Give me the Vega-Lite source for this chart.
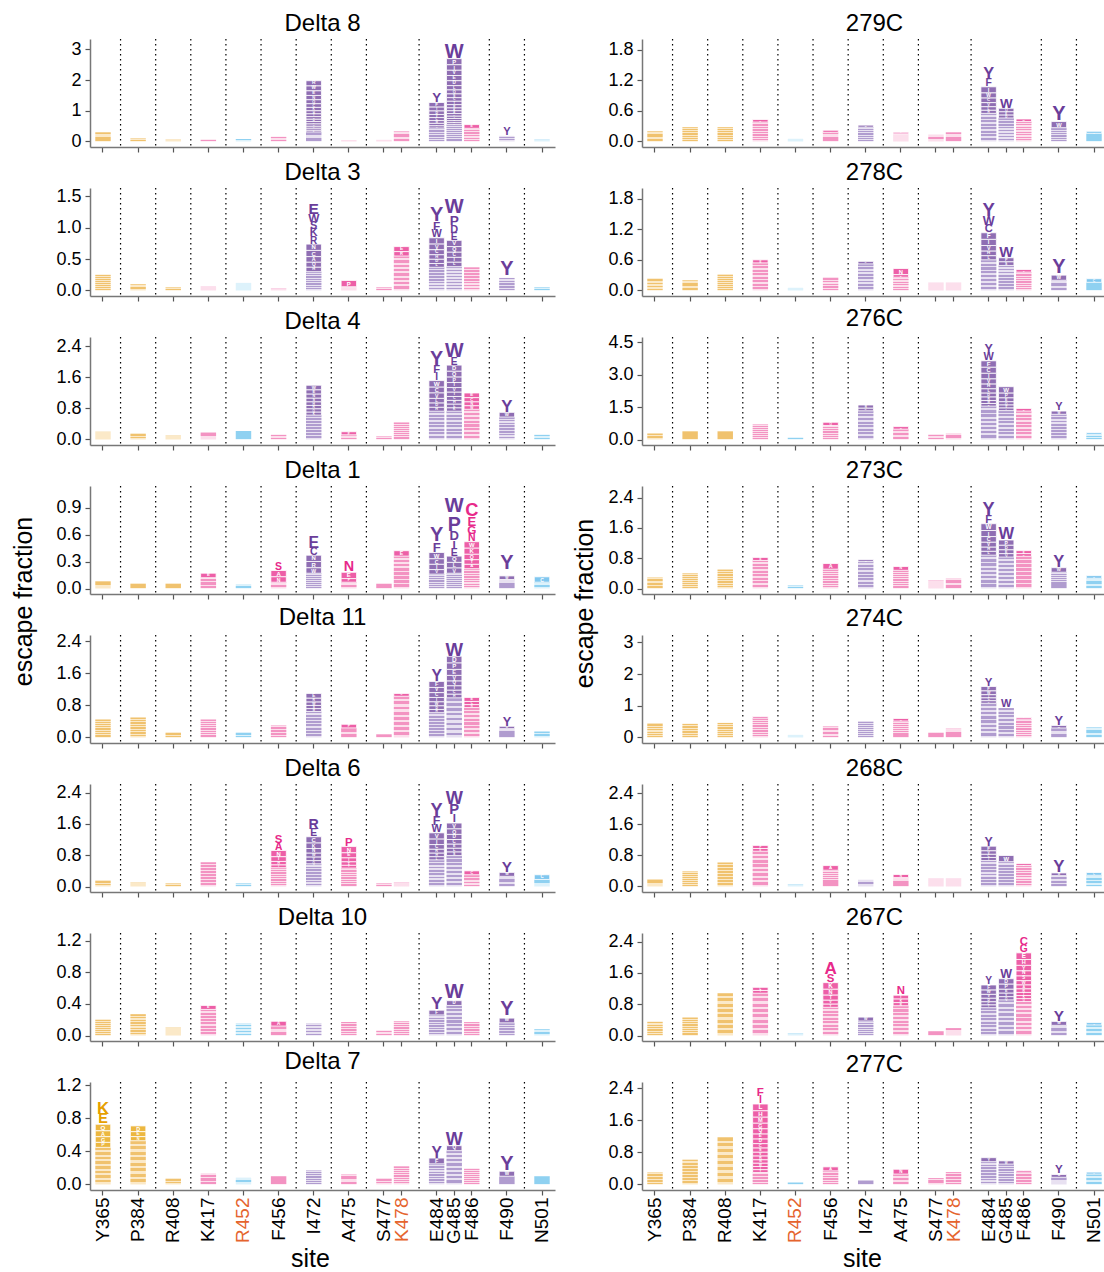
{
"padding": {"left": 10, "top": 12, "right": 0, "bottom": 0},
"params": [
{"name": "sitegrp", "value": {"Y365":"o","P384":"o","R408":"o","K417":"k","R452":"b","F456":"k","I472":"u","A475":"k","S477":"k","K478":"k","E484":"u","G485":"u","F486":"k","F490":"u","N501":"b"}},
{"name": "colmap", "value": {"o":"#E69F00","k":"#E7298A","u":"#6A3D9A","b":"#56B4E9"}},
{"name": "gradmap", "value": {
"o": {"gradient":"linear","x1":0,"y1":0,"x2":0,"y2":1,"stops":[{"offset":0,"color":"#F0C26E"},{"offset":0.07,"color":"#F0C26E"},{"offset":0.07,"color":"#FBE9C8"},{"offset":0.125,"color":"#FBE9C8"},{"offset":0.125,"color":"#F0C26E"},{"offset":0.195,"color":"#F0C26E"},{"offset":0.195,"color":"#FBE9C8"},{"offset":0.25,"color":"#FBE9C8"},{"offset":0.25,"color":"#F0C26E"},{"offset":0.32,"color":"#F0C26E"},{"offset":0.32,"color":"#FBE9C8"},{"offset":0.375,"color":"#FBE9C8"},{"offset":0.375,"color":"#F0C26E"},{"offset":0.445,"color":"#F0C26E"},{"offset":0.445,"color":"#FBE9C8"},{"offset":0.5,"color":"#FBE9C8"},{"offset":0.5,"color":"#F0C26E"},{"offset":0.57,"color":"#F0C26E"},{"offset":0.57,"color":"#FBE9C8"},{"offset":0.625,"color":"#FBE9C8"},{"offset":0.625,"color":"#F0C26E"},{"offset":0.695,"color":"#F0C26E"},{"offset":0.695,"color":"#FBE9C8"},{"offset":0.75,"color":"#FBE9C8"},{"offset":0.75,"color":"#F0C26E"},{"offset":0.82,"color":"#F0C26E"},{"offset":0.82,"color":"#FBE9C8"},{"offset":0.875,"color":"#FBE9C8"},{"offset":0.875,"color":"#F0C26E"},{"offset":0.945,"color":"#F0C26E"},{"offset":0.945,"color":"#FBE9C8"},{"offset":1,"color":"#FBE9C8"}]},
"k": {"gradient":"linear","x1":0,"y1":0,"x2":0,"y2":1,"stops":[{"offset":0,"color":"#F393C2"},{"offset":0.07,"color":"#F393C2"},{"offset":0.07,"color":"#FCDFEC"},{"offset":0.125,"color":"#FCDFEC"},{"offset":0.125,"color":"#F393C2"},{"offset":0.195,"color":"#F393C2"},{"offset":0.195,"color":"#FCDFEC"},{"offset":0.25,"color":"#FCDFEC"},{"offset":0.25,"color":"#F393C2"},{"offset":0.32,"color":"#F393C2"},{"offset":0.32,"color":"#FCDFEC"},{"offset":0.375,"color":"#FCDFEC"},{"offset":0.375,"color":"#F393C2"},{"offset":0.445,"color":"#F393C2"},{"offset":0.445,"color":"#FCDFEC"},{"offset":0.5,"color":"#FCDFEC"},{"offset":0.5,"color":"#F393C2"},{"offset":0.57,"color":"#F393C2"},{"offset":0.57,"color":"#FCDFEC"},{"offset":0.625,"color":"#FCDFEC"},{"offset":0.625,"color":"#F393C2"},{"offset":0.695,"color":"#F393C2"},{"offset":0.695,"color":"#FCDFEC"},{"offset":0.75,"color":"#FCDFEC"},{"offset":0.75,"color":"#F393C2"},{"offset":0.82,"color":"#F393C2"},{"offset":0.82,"color":"#FCDFEC"},{"offset":0.875,"color":"#FCDFEC"},{"offset":0.875,"color":"#F393C2"},{"offset":0.945,"color":"#F393C2"},{"offset":0.945,"color":"#FCDFEC"},{"offset":1,"color":"#FCDFEC"}]},
"u": {"gradient":"linear","x1":0,"y1":0,"x2":0,"y2":1,"stops":[{"offset":0,"color":"#B09CCF"},{"offset":0.07,"color":"#B09CCF"},{"offset":0.07,"color":"#E8E1F1"},{"offset":0.125,"color":"#E8E1F1"},{"offset":0.125,"color":"#B09CCF"},{"offset":0.195,"color":"#B09CCF"},{"offset":0.195,"color":"#E8E1F1"},{"offset":0.25,"color":"#E8E1F1"},{"offset":0.25,"color":"#B09CCF"},{"offset":0.32,"color":"#B09CCF"},{"offset":0.32,"color":"#E8E1F1"},{"offset":0.375,"color":"#E8E1F1"},{"offset":0.375,"color":"#B09CCF"},{"offset":0.445,"color":"#B09CCF"},{"offset":0.445,"color":"#E8E1F1"},{"offset":0.5,"color":"#E8E1F1"},{"offset":0.5,"color":"#B09CCF"},{"offset":0.57,"color":"#B09CCF"},{"offset":0.57,"color":"#E8E1F1"},{"offset":0.625,"color":"#E8E1F1"},{"offset":0.625,"color":"#B09CCF"},{"offset":0.695,"color":"#B09CCF"},{"offset":0.695,"color":"#E8E1F1"},{"offset":0.75,"color":"#E8E1F1"},{"offset":0.75,"color":"#B09CCF"},{"offset":0.82,"color":"#B09CCF"},{"offset":0.82,"color":"#E8E1F1"},{"offset":0.875,"color":"#E8E1F1"},{"offset":0.875,"color":"#B09CCF"},{"offset":0.945,"color":"#B09CCF"},{"offset":0.945,"color":"#E8E1F1"},{"offset":1,"color":"#E8E1F1"}]},
"b": {"gradient":"linear","x1":0,"y1":0,"x2":0,"y2":1,"stops":[{"offset":0,"color":"#8FD1F1"},{"offset":0.07,"color":"#8FD1F1"},{"offset":0.07,"color":"#DDF2FB"},{"offset":0.125,"color":"#DDF2FB"},{"offset":0.125,"color":"#8FD1F1"},{"offset":0.195,"color":"#8FD1F1"},{"offset":0.195,"color":"#DDF2FB"},{"offset":0.25,"color":"#DDF2FB"},{"offset":0.25,"color":"#8FD1F1"},{"offset":0.32,"color":"#8FD1F1"},{"offset":0.32,"color":"#DDF2FB"},{"offset":0.375,"color":"#DDF2FB"},{"offset":0.375,"color":"#8FD1F1"},{"offset":0.445,"color":"#8FD1F1"},{"offset":0.445,"color":"#DDF2FB"},{"offset":0.5,"color":"#DDF2FB"},{"offset":0.5,"color":"#8FD1F1"},{"offset":0.57,"color":"#8FD1F1"},{"offset":0.57,"color":"#DDF2FB"},{"offset":0.625,"color":"#DDF2FB"},{"offset":0.625,"color":"#8FD1F1"},{"offset":0.695,"color":"#8FD1F1"},{"offset":0.695,"color":"#DDF2FB"},{"offset":0.75,"color":"#DDF2FB"},{"offset":0.75,"color":"#8FD1F1"},{"offset":0.82,"color":"#8FD1F1"},{"offset":0.82,"color":"#DDF2FB"},{"offset":0.875,"color":"#DDF2FB"},{"offset":0.875,"color":"#8FD1F1"},{"offset":0.945,"color":"#8FD1F1"},{"offset":0.945,"color":"#DDF2FB"},{"offset":1,"color":"#DDF2FB"}]}
}}
],
"datasets": {
"seps": [{"s":"g1"},{"s":"g2"},{"s":"g3"},{"s":"g4"},{"s":"g5"},{"s":"g6"},{"s":"g7"},{"s":"g8"},{"s":"g9"},{"s":"g10"},{"s":"g11"}],
"logo": [
{"p":"D8","s":"Y365","a":"","v":0.3},{"p":"D8","s":"P384","a":"","v":0.1},{"p":"D8","s":"R408","a":"","v":0.06},{"p":"D8","s":"K417","a":"","v":0.07},{"p":"D8","s":"R452","a":"","v":0.08},{"p":"D8","s":"F456","a":"","v":0.15},
{"p":"D8","s":"I472","a":"","v":0.31},{"p":"D8","s":"I472","a":"R","v":0.17},{"p":"D8","s":"I472","a":"W","v":0.16},{"p":"D8","s":"I472","a":"E","v":0.15},{"p":"D8","s":"I472","a":"N","v":0.14},{"p":"D8","s":"I472","a":"Q","v":0.13},{"p":"D8","s":"I472","a":"C","v":0.12},{"p":"D8","s":"I472","a":"K","v":0.11},{"p":"D8","s":"I472","a":"H","v":0.1},{"p":"D8","s":"I472","a":"T","v":0.09},{"p":"D8","s":"I472","a":"L","v":0.08},{"p":"D8","s":"I472","a":"M","v":0.08},{"p":"D8","s":"I472","a":"S","v":0.08},{"p":"D8","s":"I472","a":"V","v":0.07},{"p":"D8","s":"I472","a":"G","v":0.07},{"p":"D8","s":"I472","a":"D","v":0.06},{"p":"D8","s":"I472","a":"A","v":0.06},
{"p":"D8","s":"A475","a":"","v":0.05},{"p":"D8","s":"S477","a":"","v":0.05},{"p":"D8","s":"K478","a":"","v":0.33},
{"p":"D8","s":"E484","a":"","v":0.44},{"p":"D8","s":"E484","a":"Y","v":0.3},{"p":"D8","s":"E484","a":"F","v":0.15},{"p":"D8","s":"E484","a":"D","v":0.12},{"p":"D8","s":"E484","a":"I","v":0.12},{"p":"D8","s":"E484","a":"C","v":0.1},{"p":"D8","s":"E484","a":"V","v":0.1},{"p":"D8","s":"E484","a":"W","v":0.09},{"p":"D8","s":"E484","a":"L","v":0.08},{"p":"D8","s":"E484","a":"H","v":0.07},
{"p":"D8","s":"G485","a":"","v":0.55},{"p":"D8","s":"G485","a":"W","v":0.45},{"p":"D8","s":"G485","a":"P","v":0.2},{"p":"D8","s":"G485","a":"I","v":0.18},{"p":"D8","s":"G485","a":"E","v":0.17},{"p":"D8","s":"G485","a":"V","v":0.17},{"p":"D8","s":"G485","a":"D","v":0.16},{"p":"D8","s":"G485","a":"L","v":0.14},{"p":"D8","s":"G485","a":"Q","v":0.13},{"p":"D8","s":"G485","a":"C","v":0.12},{"p":"D8","s":"G485","a":"S","v":0.12},{"p":"D8","s":"G485","a":"T","v":0.11},{"p":"D8","s":"G485","a":"K","v":0.1},{"p":"D8","s":"G485","a":"R","v":0.1},{"p":"D8","s":"G485","a":"A","v":0.09},{"p":"D8","s":"G485","a":"Y","v":0.08},{"p":"D8","s":"G485","a":"F","v":0.08},{"p":"D8","s":"G485","a":"M","v":0.07},{"p":"D8","s":"G485","a":"N","v":0.07},{"p":"D8","s":"G485","a":"H","v":0.06},
{"p":"D8","s":"F486","a":"","v":0.43},{"p":"D8","s":"F486","a":"E","v":0.12},{"p":"D8","s":"F490","a":"","v":0.18},{"p":"D8","s":"F490","a":"Y","v":0.25},{"p":"D8","s":"N501","a":"","v":0.06},

{"p":"D3","s":"Y365","a":"","v":0.25},{"p":"D3","s":"P384","a":"","v":0.1},{"p":"D3","s":"R408","a":"","v":0.05},{"p":"D3","s":"K417","a":"","v":0.06},{"p":"D3","s":"R452","a":"","v":0.12},{"p":"D3","s":"F456","a":"","v":0.03},
{"p":"D3","s":"I472","a":"","v":0.3},{"p":"D3","s":"I472","a":"E","v":0.17},{"p":"D3","s":"I472","a":"W","v":0.13},{"p":"D3","s":"I472","a":"K","v":0.12},{"p":"D3","s":"I472","a":"S","v":0.12},{"p":"D3","s":"I472","a":"R","v":0.11},{"p":"D3","s":"I472","a":"C","v":0.1},{"p":"D3","s":"I472","a":"N","v":0.1},{"p":"D3","s":"I472","a":"A","v":0.09},{"p":"D3","s":"I472","a":"Q","v":0.08},{"p":"D3","s":"I472","a":"H","v":0.07},
{"p":"D3","s":"A475","a":"","v":0.06},{"p":"D3","s":"A475","a":"P","v":0.1},{"p":"D3","s":"S477","a":"","v":0.05},
{"p":"D3","s":"K478","a":"","v":0.55},{"p":"D3","s":"K478","a":"E","v":0.08},{"p":"D3","s":"K478","a":"R","v":0.07},
{"p":"D3","s":"E484","a":"","v":0.37},{"p":"D3","s":"E484","a":"Y","v":0.22},{"p":"D3","s":"E484","a":"F","v":0.13},{"p":"D3","s":"E484","a":"W","v":0.12},{"p":"D3","s":"E484","a":"I","v":0.1},{"p":"D3","s":"E484","a":"V","v":0.09},{"p":"D3","s":"E484","a":"C","v":0.08},{"p":"D3","s":"E484","a":"D","v":0.07},{"p":"D3","s":"E484","a":"H","v":0.07},{"p":"D3","s":"E484","a":"L","v":0.06},
{"p":"D3","s":"G485","a":"","v":0.38},{"p":"D3","s":"G485","a":"W","v":0.3},{"p":"D3","s":"G485","a":"P","v":0.15},{"p":"D3","s":"G485","a":"D","v":0.12},{"p":"D3","s":"G485","a":"E","v":0.11},{"p":"D3","s":"G485","a":"V","v":0.1},{"p":"D3","s":"G485","a":"Q","v":0.09},{"p":"D3","s":"G485","a":"I","v":0.08},{"p":"D3","s":"G485","a":"C","v":0.08},{"p":"D3","s":"G485","a":"L","v":0.07},
{"p":"D3","s":"F486","a":"","v":0.37},{"p":"D3","s":"F490","a":"","v":0.2},{"p":"D3","s":"F490","a":"Y","v":0.3},{"p":"D3","s":"N501","a":"","v":0.05},

{"p":"D4","s":"Y365","a":"","v":0.2},{"p":"D4","s":"P384","a":"","v":0.15},{"p":"D4","s":"R408","a":"","v":0.1},{"p":"D4","s":"K417","a":"","v":0.18},{"p":"D4","s":"R452","a":"","v":0.22},{"p":"D4","s":"F456","a":"","v":0.12},
{"p":"D4","s":"I472","a":"","v":0.63},{"p":"D4","s":"I472","a":"W","v":0.12},{"p":"D4","s":"I472","a":"E","v":0.11},{"p":"D4","s":"I472","a":"S","v":0.1},{"p":"D4","s":"I472","a":"N","v":0.1},{"p":"D4","s":"I472","a":"R","v":0.09},{"p":"D4","s":"I472","a":"H","v":0.09},{"p":"D4","s":"I472","a":"K","v":0.08},{"p":"D4","s":"I472","a":"Q","v":0.08},
{"p":"D4","s":"A475","a":"","v":0.12},{"p":"D4","s":"A475","a":"P","v":0.08},{"p":"D4","s":"S477","a":"","v":0.08},{"p":"D4","s":"K478","a":"","v":0.44},
{"p":"D4","s":"E484","a":"","v":0.73},{"p":"D4","s":"E484","a":"Y","v":0.35},{"p":"D4","s":"E484","a":"F","v":0.2},{"p":"D4","s":"E484","a":"I","v":0.18},{"p":"D4","s":"E484","a":"W","v":0.17},{"p":"D4","s":"E484","a":"C","v":0.15},{"p":"D4","s":"E484","a":"V","v":0.14},{"p":"D4","s":"E484","a":"L","v":0.12},{"p":"D4","s":"E484","a":"D","v":0.11},{"p":"D4","s":"E484","a":"H","v":0.1},
{"p":"D4","s":"G485","a":"","v":0.73},{"p":"D4","s":"G485","a":"W","v":0.35},{"p":"D4","s":"G485","a":"E","v":0.18},{"p":"D4","s":"G485","a":"D","v":0.16},{"p":"D4","s":"G485","a":"Q","v":0.15},{"p":"D4","s":"G485","a":"P","v":0.14},{"p":"D4","s":"G485","a":"T","v":0.13},{"p":"D4","s":"G485","a":"V","v":0.12},{"p":"D4","s":"G485","a":"I","v":0.11},{"p":"D4","s":"G485","a":"H","v":0.1},{"p":"D4","s":"G485","a":"C","v":0.1},{"p":"D4","s":"G485","a":"K","v":0.09},{"p":"D4","s":"G485","a":"L","v":0.09},
{"p":"D4","s":"F486","a":"","v":0.78},{"p":"D4","s":"F486","a":"E","v":0.12},{"p":"D4","s":"F486","a":"C","v":0.11},{"p":"D4","s":"F486","a":"N","v":0.1},{"p":"D4","s":"F486","a":"W","v":0.09},
{"p":"D4","s":"F490","a":"","v":0.58},{"p":"D4","s":"F490","a":"Y","v":0.3},{"p":"D4","s":"F490","a":"W","v":0.12},{"p":"D4","s":"N501","a":"","v":0.12},

{"p":"D1","s":"Y365","a":"","v":0.08},{"p":"D1","s":"P384","a":"","v":0.06},{"p":"D1","s":"R408","a":"","v":0.06},{"p":"D1","s":"K417","a":"","v":0.12},{"p":"D1","s":"K417","a":"E","v":0.05},{"p":"D1","s":"R452","a":"","v":0.05},
{"p":"D1","s":"F456","a":"","v":0.07},{"p":"D1","s":"F456","a":"S","v":0.08},{"p":"D1","s":"F456","a":"A","v":0.07},{"p":"D1","s":"F456","a":"N","v":0.06},
{"p":"D1","s":"I472","a":"","v":0.17},{"p":"D1","s":"I472","a":"E","v":0.12},{"p":"D1","s":"I472","a":"C","v":0.08},{"p":"D1","s":"I472","a":"R","v":0.07},{"p":"D1","s":"I472","a":"N","v":0.07},{"p":"D1","s":"I472","a":"W","v":0.06},
{"p":"D1","s":"A475","a":"","v":0.07},{"p":"D1","s":"A475","a":"N","v":0.11},{"p":"D1","s":"A475","a":"E","v":0.07},{"p":"D1","s":"A475","a":"P","v":0.04},
{"p":"D1","s":"S477","a":"","v":0.06},{"p":"D1","s":"K478","a":"","v":0.36},{"p":"D1","s":"K478","a":"E","v":0.06},
{"p":"D1","s":"E484","a":"","v":0.16},{"p":"D1","s":"E484","a":"Y","v":0.18},{"p":"D1","s":"E484","a":"F","v":0.1},{"p":"D1","s":"E484","a":"W","v":0.07},{"p":"D1","s":"E484","a":"I","v":0.06},{"p":"D1","s":"E484","a":"C","v":0.06},{"p":"D1","s":"E484","a":"V","v":0.05},
{"p":"D1","s":"G485","a":"","v":0.17},{"p":"D1","s":"G485","a":"W","v":0.28},{"p":"D1","s":"G485","a":"P","v":0.15},{"p":"D1","s":"G485","a":"D","v":0.1},{"p":"D1","s":"G485","a":"I","v":0.09},{"p":"D1","s":"G485","a":"E","v":0.08},{"p":"D1","s":"G485","a":"Q","v":0.07},{"p":"D1","s":"G485","a":"V","v":0.06},{"p":"D1","s":"G485","a":"L","v":0.06},
{"p":"D1","s":"F486","a":"","v":0.22},{"p":"D1","s":"F486","a":"C","v":0.14},{"p":"D1","s":"F486","a":"E","v":0.1},{"p":"D1","s":"F486","a":"G","v":0.09},{"p":"D1","s":"F486","a":"N","v":0.08},{"p":"D1","s":"F486","a":"K","v":0.07},{"p":"D1","s":"F486","a":"W","v":0.07},{"p":"D1","s":"F486","a":"Q","v":0.06},{"p":"D1","s":"F486","a":"A","v":0.05},{"p":"D1","s":"F486","a":"T","v":0.05},
{"p":"D1","s":"F490","a":"","v":0.1},{"p":"D1","s":"F490","a":"Y","v":0.28},{"p":"D1","s":"F490","a":"W","v":0.04},{"p":"D1","s":"N501","a":"","v":0.07},{"p":"D1","s":"N501","a":"C","v":0.06},

{"p":"D11","s":"Y365","a":"","v":0.45},{"p":"D11","s":"P384","a":"","v":0.5},{"p":"D11","s":"R408","a":"","v":0.12},{"p":"D11","s":"K417","a":"","v":0.45},{"p":"D11","s":"R452","a":"","v":0.12},{"p":"D11","s":"F456","a":"","v":0.3},
{"p":"D11","s":"I472","a":"","v":0.65},{"p":"D11","s":"I472","a":"E","v":0.12},{"p":"D11","s":"I472","a":"W","v":0.09},{"p":"D11","s":"I472","a":"R","v":0.09},{"p":"D11","s":"I472","a":"S","v":0.08},{"p":"D11","s":"I472","a":"M","v":0.07},
{"p":"D11","s":"A475","a":"","v":0.24},{"p":"D11","s":"A475","a":"P","v":0.09},{"p":"D11","s":"S477","a":"","v":0.08},{"p":"D11","s":"K478","a":"","v":1.03},{"p":"D11","s":"K478","a":"C","v":0.07},
{"p":"D11","s":"E484","a":"","v":0.62},{"p":"D11","s":"E484","a":"Y","v":0.27},{"p":"D11","s":"E484","a":"F","v":0.15},{"p":"D11","s":"E484","a":"V","v":0.13},{"p":"D11","s":"E484","a":"C","v":0.12},{"p":"D11","s":"E484","a":"I","v":0.11},{"p":"D11","s":"E484","a":"W","v":0.1},{"p":"D11","s":"E484","a":"D","v":0.09},{"p":"D11","s":"E484","a":"H","v":0.08},
{"p":"D11","s":"G485","a":"","v":0.99},{"p":"D11","s":"G485","a":"W","v":0.32},{"p":"D11","s":"G485","a":"D","v":0.17},{"p":"D11","s":"G485","a":"P","v":0.16},{"p":"D11","s":"G485","a":"E","v":0.15},{"p":"D11","s":"G485","a":"V","v":0.14},{"p":"D11","s":"G485","a":"Q","v":0.12},{"p":"D11","s":"G485","a":"I","v":0.11},{"p":"D11","s":"G485","a":"C","v":0.1},{"p":"D11","s":"G485","a":"H","v":0.09},
{"p":"D11","s":"F486","a":"","v":0.75},{"p":"D11","s":"F486","a":"E","v":0.1},{"p":"D11","s":"F486","a":"C","v":0.08},{"p":"D11","s":"F486","a":"N","v":0.07},
{"p":"D11","s":"F490","a":"","v":0.22},{"p":"D11","s":"F490","a":"Y","v":0.22},{"p":"D11","s":"F490","a":"W","v":0.06},{"p":"D11","s":"N501","a":"","v":0.15},

{"p":"D6","s":"Y365","a":"","v":0.15},{"p":"D6","s":"P384","a":"","v":0.1},{"p":"D6","s":"R408","a":"","v":0.08},{"p":"D6","s":"K417","a":"","v":0.62},{"p":"D6","s":"R452","a":"","v":0.08},
{"p":"D6","s":"F456","a":"","v":0.48},{"p":"D6","s":"F456","a":"S","v":0.2},{"p":"D6","s":"F456","a":"A","v":0.18},{"p":"D6","s":"F456","a":"N","v":0.16},{"p":"D6","s":"F456","a":"T","v":0.12},{"p":"D6","s":"F456","a":"H","v":0.09},{"p":"D6","s":"F456","a":"I","v":0.07},
{"p":"D6","s":"I472","a":"","v":0.58},{"p":"D6","s":"I472","a":"R","v":0.25},{"p":"D6","s":"I472","a":"E","v":0.18},{"p":"D6","s":"I472","a":"C","v":0.16},{"p":"D6","s":"I472","a":"K","v":0.14},{"p":"D6","s":"I472","a":"N","v":0.12},{"p":"D6","s":"I472","a":"W","v":0.1},{"p":"D6","s":"I472","a":"V","v":0.09},{"p":"D6","s":"I472","a":"Q","v":0.08},
{"p":"D6","s":"A475","a":"","v":0.47},{"p":"D6","s":"A475","a":"P","v":0.2},{"p":"D6","s":"A475","a":"N","v":0.16},{"p":"D6","s":"A475","a":"E","v":0.13},{"p":"D6","s":"A475","a":"I","v":0.1},{"p":"D6","s":"A475","a":"T","v":0.09},{"p":"D6","s":"A475","a":"Y","v":0.07},
{"p":"D6","s":"S477","a":"","v":0.08},{"p":"D6","s":"K478","a":"","v":0.1},
{"p":"D6","s":"E484","a":"","v":0.68},{"p":"D6","s":"E484","a":"Y","v":0.32},{"p":"D6","s":"E484","a":"F","v":0.22},{"p":"D6","s":"E484","a":"W","v":0.19},{"p":"D6","s":"E484","a":"V","v":0.16},{"p":"D6","s":"E484","a":"I","v":0.14},{"p":"D6","s":"E484","a":"C","v":0.12},{"p":"D6","s":"E484","a":"R","v":0.1},{"p":"D6","s":"E484","a":"H","v":0.09},{"p":"D6","s":"E484","a":"L","v":0.08},
{"p":"D6","s":"G485","a":"","v":0.79},{"p":"D6","s":"G485","a":"W","v":0.32},{"p":"D6","s":"G485","a":"P","v":0.26},{"p":"D6","s":"G485","a":"I","v":0.2},{"p":"D6","s":"G485","a":"V","v":0.15},{"p":"D6","s":"G485","a":"Q","v":0.14},{"p":"D6","s":"G485","a":"D","v":0.13},{"p":"D6","s":"G485","a":"C","v":0.12},{"p":"D6","s":"G485","a":"L","v":0.1},{"p":"D6","s":"G485","a":"E","v":0.1},{"p":"D6","s":"G485","a":"S","v":0.09},
{"p":"D6","s":"F486","a":"","v":0.3},{"p":"D6","s":"F486","a":"C","v":0.1},{"p":"D6","s":"F490","a":"","v":0.26},{"p":"D6","s":"F490","a":"Y","v":0.27},{"p":"D6","s":"F490","a":"W","v":0.1},{"p":"D6","s":"N501","a":"","v":0.18},{"p":"D6","s":"N501","a":"C","v":0.12},

{"p":"D10","s":"Y365","a":"","v":0.2},{"p":"D10","s":"P384","a":"","v":0.27},{"p":"D10","s":"R408","a":"","v":0.1},{"p":"D10","s":"K417","a":"","v":0.33},{"p":"D10","s":"K417","a":"E","v":0.05},{"p":"D10","s":"R452","a":"","v":0.15},{"p":"D10","s":"F456","a":"","v":0.12},{"p":"D10","s":"F456","a":"A","v":0.06},
{"p":"D10","s":"I472","a":"","v":0.15},{"p":"D10","s":"A475","a":"","v":0.17},{"p":"D10","s":"S477","a":"","v":0.06},{"p":"D10","s":"K478","a":"","v":0.18},
{"p":"D10","s":"E484","a":"","v":0.26},{"p":"D10","s":"E484","a":"Y","v":0.15},{"p":"D10","s":"E484","a":"F","v":0.06},{"p":"D10","s":"G485","a":"","v":0.38},{"p":"D10","s":"G485","a":"W","v":0.22},{"p":"D10","s":"G485","a":"D","v":0.06},
{"p":"D10","s":"F486","a":"","v":0.17},{"p":"D10","s":"F490","a":"","v":0.16},{"p":"D10","s":"F490","a":"Y","v":0.22},{"p":"D10","s":"F490","a":"W","v":0.06},{"p":"D10","s":"N501","a":"","v":0.08},

{"p":"D7","s":"Y365","a":"","v":0.45},{"p":"D7","s":"Y365","a":"K","v":0.14},{"p":"D7","s":"Y365","a":"E","v":0.12},{"p":"D7","s":"Y365","a":"Q","v":0.08},{"p":"D7","s":"Y365","a":"G","v":0.07},{"p":"D7","s":"Y365","a":"A","v":0.07},{"p":"D7","s":"Y365","a":"P","v":0.06},
{"p":"D7","s":"P384","a":"","v":0.53},{"p":"D7","s":"P384","a":"D","v":0.07},{"p":"D7","s":"P384","a":"E","v":0.06},{"p":"D7","s":"P384","a":"N","v":0.05},
{"p":"D7","s":"R408","a":"","v":0.07},{"p":"D7","s":"K417","a":"","v":0.13},{"p":"D7","s":"R452","a":"","v":0.08},{"p":"D7","s":"F456","a":"","v":0.1},{"p":"D7","s":"I472","a":"","v":0.17},{"p":"D7","s":"A475","a":"","v":0.12},{"p":"D7","s":"S477","a":"","v":0.07},{"p":"D7","s":"K478","a":"","v":0.22},
{"p":"D7","s":"E484","a":"","v":0.25},{"p":"D7","s":"E484","a":"Y","v":0.13},{"p":"D7","s":"E484","a":"F","v":0.07},{"p":"D7","s":"G485","a":"","v":0.41},{"p":"D7","s":"G485","a":"W","v":0.15},{"p":"D7","s":"G485","a":"Q","v":0.06},
{"p":"D7","s":"F486","a":"","v":0.19},{"p":"D7","s":"F490","a":"","v":0.1},{"p":"D7","s":"F490","a":"Y","v":0.17},{"p":"D7","s":"F490","a":"W","v":0.06},{"p":"D7","s":"N501","a":"","v":0.1},

{"p":"279C","s":"Y365","a":"","v":0.2},{"p":"279C","s":"P384","a":"","v":0.28},{"p":"279C","s":"R408","a":"","v":0.28},{"p":"279C","s":"K417","a":"","v":0.38},{"p":"279C","s":"K417","a":"E","v":0.05},{"p":"279C","s":"R452","a":"","v":0.05},
{"p":"279C","s":"F456","a":"","v":0.18},{"p":"279C","s":"F456","a":"A","v":0.04},{"p":"279C","s":"I472","a":"","v":0.28},{"p":"279C","s":"I472","a":"W","v":0.04},{"p":"279C","s":"A475","a":"","v":0.15},{"p":"279C","s":"A475","a":"N","v":0.03},{"p":"279C","s":"S477","a":"","v":0.13},{"p":"279C","s":"K478","a":"","v":0.18},
{"p":"279C","s":"E484","a":"","v":0.55},{"p":"279C","s":"E484","a":"Y","v":0.22},{"p":"279C","s":"E484","a":"F","v":0.14},{"p":"279C","s":"E484","a":"I","v":0.12},{"p":"279C","s":"E484","a":"W","v":0.1},{"p":"279C","s":"E484","a":"C","v":0.09},{"p":"279C","s":"E484","a":"V","v":0.08},{"p":"279C","s":"E484","a":"L","v":0.07},{"p":"279C","s":"E484","a":"H","v":0.06},
{"p":"279C","s":"G485","a":"","v":0.46},{"p":"279C","s":"G485","a":"W","v":0.18},{"p":"279C","s":"G485","a":"Q","v":0.07},{"p":"279C","s":"G485","a":"D","v":0.06},{"p":"279C","s":"G485","a":"E","v":0.06},
{"p":"279C","s":"F486","a":"","v":0.39},{"p":"279C","s":"F486","a":"W","v":0.05},{"p":"279C","s":"F490","a":"","v":0.27},{"p":"279C","s":"F490","a":"Y","v":0.28},{"p":"279C","s":"F490","a":"W","v":0.12},{"p":"279C","s":"N501","a":"","v":0.16},{"p":"279C","s":"N501","a":"C","v":0.04},

{"p":"278C","s":"Y365","a":"","v":0.23},{"p":"278C","s":"P384","a":"","v":0.2},{"p":"278C","s":"R408","a":"","v":0.31},{"p":"278C","s":"K417","a":"","v":0.54},{"p":"278C","s":"K417","a":"E","v":0.06},{"p":"278C","s":"R452","a":"","v":0.05},{"p":"278C","s":"F456","a":"","v":0.25},
{"p":"278C","s":"I472","a":"","v":0.52},{"p":"278C","s":"I472","a":"K","v":0.05},{"p":"278C","s":"A475","a":"","v":0.26},{"p":"278C","s":"A475","a":"N","v":0.12},{"p":"278C","s":"A475","a":"E","v":0.05},{"p":"278C","s":"S477","a":"","v":0.15},{"p":"278C","s":"K478","a":"","v":0.15},
{"p":"278C","s":"E484","a":"","v":0.6},{"p":"278C","s":"E484","a":"Y","v":0.25},{"p":"278C","s":"E484","a":"W","v":0.17},{"p":"278C","s":"E484","a":"C","v":0.15},{"p":"278C","s":"E484","a":"F","v":0.13},{"p":"278C","s":"E484","a":"I","v":0.12},{"p":"278C","s":"E484","a":"V","v":0.11},{"p":"278C","s":"E484","a":"H","v":0.09},{"p":"278C","s":"E484","a":"L","v":0.08},
{"p":"278C","s":"G485","a":"","v":0.49},{"p":"278C","s":"G485","a":"W","v":0.2},{"p":"278C","s":"G485","a":"P","v":0.08},{"p":"278C","s":"G485","a":"S","v":0.07},
{"p":"278C","s":"F486","a":"","v":0.36},{"p":"278C","s":"F486","a":"S","v":0.05},{"p":"278C","s":"F490","a":"","v":0.2},{"p":"278C","s":"F490","a":"Y","v":0.3},{"p":"278C","s":"F490","a":"W","v":0.1},{"p":"278C","s":"N501","a":"","v":0.16},{"p":"278C","s":"N501","a":"C","v":0.07},

{"p":"276C","s":"Y365","a":"","v":0.28},{"p":"276C","s":"P384","a":"","v":0.38},{"p":"276C","s":"R408","a":"","v":0.38},{"p":"276C","s":"K417","a":"","v":0.7},{"p":"276C","s":"R452","a":"","v":0.08},
{"p":"276C","s":"F456","a":"","v":0.65},{"p":"276C","s":"F456","a":"Q","v":0.15},{"p":"276C","s":"I472","a":"","v":1.33},{"p":"276C","s":"I472","a":"R","v":0.15},{"p":"276C","s":"I472","a":"K","v":0.12},
{"p":"276C","s":"A475","a":"","v":0.48},{"p":"276C","s":"A475","a":"N","v":0.12},{"p":"276C","s":"S477","a":"","v":0.22},{"p":"276C","s":"K478","a":"","v":0.3},
{"p":"276C","s":"E484","a":"","v":1.55},{"p":"276C","s":"E484","a":"Y","v":0.4},{"p":"276C","s":"E484","a":"W","v":0.35},{"p":"276C","s":"E484","a":"F","v":0.3},{"p":"276C","s":"E484","a":"C","v":0.28},{"p":"276C","s":"E484","a":"I","v":0.26},{"p":"276C","s":"E484","a":"V","v":0.24},{"p":"276C","s":"E484","a":"H","v":0.22},{"p":"276C","s":"E484","a":"L","v":0.2},{"p":"276C","s":"E484","a":"D","v":0.18},{"p":"276C","s":"E484","a":"R","v":0.16},{"p":"276C","s":"E484","a":"M","v":0.14},{"p":"276C","s":"E484","a":"S","v":0.12},
{"p":"276C","s":"G485","a":"","v":1.34},{"p":"276C","s":"G485","a":"W","v":0.3},{"p":"276C","s":"G485","a":"P","v":0.22},{"p":"276C","s":"G485","a":"E","v":0.18},{"p":"276C","s":"G485","a":"Q","v":0.15},{"p":"276C","s":"G485","a":"V","v":0.14},{"p":"276C","s":"G485","a":"I","v":0.12},
{"p":"276C","s":"F486","a":"","v":1.32},{"p":"276C","s":"F486","a":"E","v":0.12},{"p":"276C","s":"F490","a":"","v":1.17},{"p":"276C","s":"F490","a":"Y","v":0.35},{"p":"276C","s":"F490","a":"W","v":0.15},{"p":"276C","s":"N501","a":"","v":0.24},{"p":"276C","s":"N501","a":"C","v":0.08},

{"p":"273C","s":"Y365","a":"","v":0.29},{"p":"273C","s":"P384","a":"","v":0.4},{"p":"273C","s":"R408","a":"","v":0.5},{"p":"273C","s":"K417","a":"","v":0.74},{"p":"273C","s":"K417","a":"E","v":0.08},{"p":"273C","s":"R452","a":"","v":0.08},
{"p":"273C","s":"F456","a":"","v":0.51},{"p":"273C","s":"F456","a":"A","v":0.15},{"p":"273C","s":"I472","a":"","v":0.71},{"p":"273C","s":"I472","a":"W","v":0.05},{"p":"273C","s":"A475","a":"","v":0.48},{"p":"273C","s":"A475","a":"N","v":0.1},{"p":"273C","s":"S477","a":"","v":0.21},{"p":"273C","s":"K478","a":"","v":0.26},
{"p":"273C","s":"E484","a":"","v":0.88},{"p":"273C","s":"E484","a":"Y","v":0.33},{"p":"273C","s":"E484","a":"F","v":0.2},{"p":"273C","s":"E484","a":"W","v":0.18},{"p":"273C","s":"E484","a":"I","v":0.16},{"p":"273C","s":"E484","a":"C","v":0.15},{"p":"273C","s":"E484","a":"V","v":0.13},{"p":"273C","s":"E484","a":"H","v":0.11},{"p":"273C","s":"E484","a":"L","v":0.1},
{"p":"273C","s":"G485","a":"","v":0.83},{"p":"273C","s":"G485","a":"W","v":0.3},{"p":"273C","s":"G485","a":"P","v":0.14},{"p":"273C","s":"G485","a":"D","v":0.12},{"p":"273C","s":"G485","a":"E","v":0.1},{"p":"273C","s":"G485","a":"Q","v":0.09},
{"p":"273C","s":"F486","a":"","v":0.85},{"p":"273C","s":"F486","a":"E","v":0.08},{"p":"273C","s":"F486","a":"C","v":0.07},{"p":"273C","s":"F490","a":"","v":0.43},{"p":"273C","s":"F490","a":"Y","v":0.3},{"p":"273C","s":"F490","a":"W","v":0.12},{"p":"273C","s":"N501","a":"","v":0.27},{"p":"273C","s":"N501","a":"C","v":0.07},

{"p":"274C","s":"Y365","a":"","v":0.44},{"p":"274C","s":"P384","a":"","v":0.43},{"p":"274C","s":"R408","a":"","v":0.46},{"p":"274C","s":"K417","a":"","v":0.61},{"p":"274C","s":"K417","a":"F","v":0.05},{"p":"274C","s":"R452","a":"","v":0.08},{"p":"274C","s":"F456","a":"","v":0.35},{"p":"274C","s":"I472","a":"","v":0.5},
{"p":"274C","s":"A475","a":"","v":0.52},{"p":"274C","s":"A475","a":"N","v":0.08},{"p":"274C","s":"S477","a":"","v":0.17},{"p":"274C","s":"K478","a":"","v":0.28},
{"p":"274C","s":"E484","a":"","v":1.08},{"p":"274C","s":"E484","a":"Y","v":0.25},{"p":"274C","s":"E484","a":"F","v":0.14},{"p":"274C","s":"E484","a":"W","v":0.12},{"p":"274C","s":"E484","a":"I","v":0.1},{"p":"274C","s":"E484","a":"C","v":0.09},{"p":"274C","s":"E484","a":"V","v":0.08},
{"p":"274C","s":"G485","a":"","v":0.93},{"p":"274C","s":"G485","a":"W","v":0.24},{"p":"274C","s":"F486","a":"","v":0.58},{"p":"274C","s":"F486","a":"E","v":0.05},{"p":"274C","s":"F490","a":"","v":0.3},{"p":"274C","s":"F490","a":"Y","v":0.28},{"p":"274C","s":"F490","a":"W","v":0.08},{"p":"274C","s":"N501","a":"","v":0.32},

{"p":"268C","s":"Y365","a":"","v":0.18},{"p":"268C","s":"P384","a":"","v":0.39},{"p":"268C","s":"R408","a":"","v":0.62},{"p":"268C","s":"K417","a":"","v":0.91},{"p":"268C","s":"K417","a":"F","v":0.08},{"p":"268C","s":"K417","a":"E","v":0.07},{"p":"268C","s":"R452","a":"","v":0.05},
{"p":"268C","s":"F456","a":"","v":0.42},{"p":"268C","s":"F456","a":"A","v":0.12},{"p":"268C","s":"I472","a":"","v":0.17},{"p":"268C","s":"A475","a":"","v":0.23},{"p":"268C","s":"A475","a":"N","v":0.08},{"p":"268C","s":"S477","a":"","v":0.2},{"p":"268C","s":"K478","a":"","v":0.2},
{"p":"268C","s":"E484","a":"","v":0.67},{"p":"268C","s":"E484","a":"Y","v":0.22},{"p":"268C","s":"E484","a":"F","v":0.12},{"p":"268C","s":"E484","a":"V","v":0.09},{"p":"268C","s":"E484","a":"I","v":0.08},{"p":"268C","s":"E484","a":"C","v":0.08},
{"p":"268C","s":"G485","a":"","v":0.64},{"p":"268C","s":"G485","a":"W","v":0.16},{"p":"268C","s":"F486","a":"","v":0.54},{"p":"268C","s":"F486","a":"E","v":0.05},{"p":"268C","s":"F490","a":"","v":0.28},{"p":"268C","s":"F490","a":"Y","v":0.3},{"p":"268C","s":"F490","a":"W","v":0.07},{"p":"268C","s":"N501","a":"","v":0.29},{"p":"268C","s":"N501","a":"C","v":0.07},

{"p":"267C","s":"Y365","a":"","v":0.35},{"p":"267C","s":"P384","a":"","v":0.46},{"p":"267C","s":"R408","a":"","v":1.08},{"p":"267C","s":"K417","a":"","v":1.08},{"p":"267C","s":"K417","a":"L","v":0.08},{"p":"267C","s":"K417","a":"I","v":0.07},{"p":"267C","s":"R452","a":"","v":0.05},
{"p":"267C","s":"F456","a":"","v":0.72},{"p":"267C","s":"F456","a":"A","v":0.3},{"p":"267C","s":"F456","a":"S","v":0.2},{"p":"267C","s":"F456","a":"K","v":0.17},{"p":"267C","s":"F456","a":"N","v":0.15},{"p":"267C","s":"F456","a":"T","v":0.13},{"p":"267C","s":"F456","a":"V","v":0.1},{"p":"267C","s":"F456","a":"Y","v":0.08},
{"p":"267C","s":"I472","a":"","v":0.37},{"p":"267C","s":"I472","a":"W","v":0.1},
{"p":"267C","s":"A475","a":"","v":0.76},{"p":"267C","s":"A475","a":"N","v":0.2},{"p":"267C","s":"A475","a":"I","v":0.1},{"p":"267C","s":"A475","a":"K","v":0.09},{"p":"267C","s":"A475","a":"R","v":0.08},
{"p":"267C","s":"S477","a":"","v":0.11},{"p":"267C","s":"K478","a":"","v":0.19},
{"p":"267C","s":"E484","a":"","v":0.71},{"p":"267C","s":"E484","a":"Y","v":0.18},{"p":"267C","s":"E484","a":"F","v":0.13},{"p":"267C","s":"E484","a":"W","v":0.11},{"p":"267C","s":"E484","a":"V","v":0.1},{"p":"267C","s":"E484","a":"D","v":0.09},{"p":"267C","s":"E484","a":"C","v":0.08},{"p":"267C","s":"E484","a":"I","v":0.07},
{"p":"267C","s":"G485","a":"","v":0.91},{"p":"267C","s":"G485","a":"W","v":0.22},{"p":"267C","s":"G485","a":"D","v":0.14},{"p":"267C","s":"G485","a":"P","v":0.13},{"p":"267C","s":"G485","a":"E","v":0.1},{"p":"267C","s":"G485","a":"V","v":0.09},{"p":"267C","s":"G485","a":"Q","v":0.08},
{"p":"267C","s":"F486","a":"","v":0.87},{"p":"267C","s":"F486","a":"C","v":0.2},{"p":"267C","s":"F486","a":"G","v":0.18},{"p":"267C","s":"F486","a":"E","v":0.17},{"p":"267C","s":"F486","a":"H","v":0.15},{"p":"267C","s":"F486","a":"Y","v":0.14},{"p":"267C","s":"F486","a":"N","v":0.13},{"p":"267C","s":"F486","a":"S","v":0.12},{"p":"267C","s":"F486","a":"W","v":0.11},{"p":"267C","s":"F486","a":"A","v":0.1},{"p":"267C","s":"F486","a":"R","v":0.09},{"p":"267C","s":"F486","a":"K","v":0.08},{"p":"267C","s":"F486","a":"T","v":0.08},{"p":"267C","s":"F486","a":"Q","v":0.07},
{"p":"267C","s":"F490","a":"","v":0.26},{"p":"267C","s":"F490","a":"Y","v":0.27},{"p":"267C","s":"F490","a":"W","v":0.1},{"p":"267C","s":"N501","a":"","v":0.27},{"p":"267C","s":"N501","a":"C","v":0.06},

{"p":"277C","s":"Y365","a":"","v":0.3},{"p":"277C","s":"P384","a":"","v":0.62},{"p":"277C","s":"R408","a":"","v":1.18},
{"p":"277C","s":"K417","a":"","v":0.3},{"p":"277C","s":"K417","a":"F","v":0.2},{"p":"277C","s":"K417","a":"I","v":0.18},{"p":"277C","s":"K417","a":"L","v":0.17},{"p":"277C","s":"K417","a":"H","v":0.16},{"p":"277C","s":"K417","a":"M","v":0.15},{"p":"277C","s":"K417","a":"G","v":0.14},{"p":"277C","s":"K417","a":"Q","v":0.13},{"p":"277C","s":"K417","a":"D","v":0.12},{"p":"277C","s":"K417","a":"E","v":0.12},{"p":"277C","s":"K417","a":"C","v":0.11},{"p":"277C","s":"K417","a":"V","v":0.1},{"p":"277C","s":"K417","a":"S","v":0.1},{"p":"277C","s":"K417","a":"N","v":0.09},{"p":"277C","s":"K417","a":"R","v":0.09},{"p":"277C","s":"K417","a":"T","v":0.08},{"p":"277C","s":"K417","a":"W","v":0.08},{"p":"277C","s":"K417","a":"Y","v":0.07},
{"p":"277C","s":"R452","a":"","v":0.05},{"p":"277C","s":"F456","a":"","v":0.34},{"p":"277C","s":"F456","a":"A","v":0.1},{"p":"277C","s":"I472","a":"","v":0.1},{"p":"277C","s":"A475","a":"","v":0.26},{"p":"277C","s":"A475","a":"N","v":0.12},{"p":"277C","s":"S477","a":"","v":0.16},{"p":"277C","s":"K478","a":"","v":0.31},
{"p":"277C","s":"E484","a":"","v":0.57},{"p":"277C","s":"E484","a":"Y","v":0.1},{"p":"277C","s":"G485","a":"","v":0.51},{"p":"277C","s":"G485","a":"W","v":0.08},{"p":"277C","s":"F486","a":"","v":0.31},{"p":"277C","s":"F486","a":"E","v":0.04},
{"p":"277C","s":"F490","a":"","v":0.18},{"p":"277C","s":"F490","a":"Y","v":0.2},{"p":"277C","s":"F490","a":"W","v":0.07},{"p":"277C","s":"N501","a":"","v":0.26},{"p":"277C","s":"N501","a":"C","v":0.05}
]},
"data": {"name": "logo"},
"transform": [
{"calculate": "datum.a == '' ? 0 : 1", "as": "r"},
{"stack": "v", "groupby": ["p", "s"], "sort": [{"field": "r", "order": "ascending"}, {"field": "v", "order": "ascending"}], "as": ["y0", "y1"]},
{"calculate": "(datum.y0 + datum.y1) / 2", "as": "ym"}
],
"spacing": 16,
"hconcat": [
{"spacing": 41, "bounds": "flush", "vconcat": [
{"title": "Delta 8", "width": 465, "height": 108,
"encoding": {"x": {"field": "s", "type": "nominal", "scale": {"domain": ["Y365","g1","P384","g2","R408","g3","K417","g4","R452","g5","F456","g6","I472","g7","A475","g8","S477","K478","g9","E484","G485","F486","g10","F490","g11","N501"], "paddingInner": 0.12, "paddingOuter": 0.3}, "axis": {"values": ["Y365","P384","R408","K417","R452","F456","I472","A475","S477","K478","E484","G485","F486","F490","N501"], "labels": false, "title": null}}},
"layer": [
{"transform": [{"filter": "datum.p=='D8' && (datum.a=='' || datum.v < 0.224)"}], "mark": {"type": "bar", "fill": {"expr": "datum.a=='' ? gradmap[sitegrp[datum.s]] : colmap[sitegrp[datum.s]]"}, "fillOpacity": {"expr": "datum.a=='' ? 1 : 0.75"}, "stroke": "#ffffff", "strokeWidth": {"expr": "datum.a=='' ? 0 : 0.8"}}, "encoding": {"y": {"field": "y1", "type": "quantitative", "scale": {"domain": [-0.18, 3.34], "nice": false, "zero": false}, "axis": {"values": [0,1,2,3], "format": "d", "title": null}}, "y2": {"field": "y0"}}},
{"transform": [{"filter": "datum.p=='D8' && datum.a!=''"}], "mark": {"type": "text", "font": "Liberation Sans Narrow, Liberation Sans", "fontWeight": "bold", "baseline": "middle", "align": "center", "fontSize": {"expr": "datum.v < 0.224 ? datum.v * 29.0 : min(20, datum.v * 44.6)"}, "fill": {"expr": "datum.v < 0.224 ? '#ffffff' : colmap[sitegrp[datum.s]]"}}, "encoding": {"y": {"field": "ym", "type": "quantitative", "scale": {"domain": [-0.18, 3.34], "nice": false, "zero": false}, "axis": {"values": [0,1,2,3], "format": "d", "title": null}}, "text": {"field": "a"}}},
{"data": {"name": "seps"}, "mark": {"type": "rule", "color": "#000", "strokeWidth": 1.2, "strokeDash": [1.5, 3.5]}, "encoding": {}}
]},
{"title": "Delta 3", "width": 465, "height": 108,
"encoding": {"x": {"field": "s", "type": "nominal", "scale": {"domain": ["Y365","g1","P384","g2","R408","g3","K417","g4","R452","g5","F456","g6","I472","g7","A475","g8","S477","K478","g9","E484","G485","F486","g10","F490","g11","N501"], "paddingInner": 0.12, "paddingOuter": 0.3}, "axis": {"values": ["Y365","P384","R408","K417","R452","F456","I472","A475","S477","K478","E484","G485","F486","F490","N501"], "labels": false, "title": null}}},
"layer": [
{"transform": [{"filter": "datum.p=='D3' && (datum.a=='' || datum.v < 0.11)"}], "mark": {"type": "bar", "fill": {"expr": "datum.a=='' ? gradmap[sitegrp[datum.s]] : colmap[sitegrp[datum.s]]"}, "fillOpacity": {"expr": "datum.a=='' ? 1 : 0.75"}, "stroke": "#ffffff", "strokeWidth": {"expr": "datum.a=='' ? 0 : 0.8"}}, "encoding": {"y": {"field": "y1", "type": "quantitative", "scale": {"domain": [-0.088, 1.635], "nice": false, "zero": false}, "axis": {"values": [0,0.5,1,1.5], "format": ".1f", "title": null}}, "y2": {"field": "y0"}}},
{"transform": [{"filter": "datum.p=='D3' && datum.a!=''"}], "mark": {"type": "text", "font": "Liberation Sans Narrow, Liberation Sans", "fontWeight": "bold", "baseline": "middle", "align": "center", "fontSize": {"expr": "datum.v < 0.11 ? datum.v * 59.2 : min(20, datum.v * 91.1)"}, "fill": {"expr": "datum.v < 0.11 ? '#ffffff' : colmap[sitegrp[datum.s]]"}}, "encoding": {"y": {"field": "ym", "type": "quantitative", "scale": {"domain": [-0.088, 1.635], "nice": false, "zero": false}, "axis": {"values": [0,0.5,1,1.5], "format": ".1f", "title": null}}, "text": {"field": "a"}}},
{"data": {"name": "seps"}, "mark": {"type": "rule", "color": "#000", "strokeWidth": 1.2, "strokeDash": [1.5, 3.5]}, "encoding": {}}
]},
{"title": "Delta 4", "width": 465, "height": 108,
"encoding": {"x": {"field": "s", "type": "nominal", "scale": {"domain": ["Y365","g1","P384","g2","R408","g3","K417","g4","R452","g5","F456","g6","I472","g7","A475","g8","S477","K478","g9","E484","G485","F486","g10","F490","g11","N501"], "paddingInner": 0.12, "paddingOuter": 0.3}, "axis": {"values": ["Y365","P384","R408","K417","R452","F456","I472","A475","S477","K478","E484","G485","F486","F490","N501"], "labels": false, "title": null}}},
"layer": [
{"transform": [{"filter": "datum.p=='D4' && (datum.a=='' || datum.v < 0.178)"}], "mark": {"type": "bar", "fill": {"expr": "datum.a=='' ? gradmap[sitegrp[datum.s]] : colmap[sitegrp[datum.s]]"}, "fillOpacity": {"expr": "datum.a=='' ? 1 : 0.75"}, "stroke": "#ffffff", "strokeWidth": {"expr": "datum.a=='' ? 0 : 0.8"}}, "encoding": {"y": {"field": "y1", "type": "quantitative", "scale": {"domain": [-0.142, 2.645], "nice": false, "zero": false}, "axis": {"values": [0,0.8,1.6,2.4], "format": ".1f", "title": null}}, "y2": {"field": "y0"}}},
{"transform": [{"filter": "datum.p=='D4' && datum.a!=''"}], "mark": {"type": "text", "font": "Liberation Sans Narrow, Liberation Sans", "fontWeight": "bold", "baseline": "middle", "align": "center", "fontSize": {"expr": "datum.v < 0.178 ? datum.v * 36.6 : min(20, datum.v * 56.3)"}, "fill": {"expr": "datum.v < 0.178 ? '#ffffff' : colmap[sitegrp[datum.s]]"}}, "encoding": {"y": {"field": "ym", "type": "quantitative", "scale": {"domain": [-0.142, 2.645], "nice": false, "zero": false}, "axis": {"values": [0,0.8,1.6,2.4], "format": ".1f", "title": null}}, "text": {"field": "a"}}},
{"data": {"name": "seps"}, "mark": {"type": "rule", "color": "#000", "strokeWidth": 1.2, "strokeDash": [1.5, 3.5]}, "encoding": {}}
]},
{"title": "Delta 1", "width": 465, "height": 108,
"encoding": {"x": {"field": "s", "type": "nominal", "scale": {"domain": ["Y365","g1","P384","g2","R408","g3","K417","g4","R452","g5","F456","g6","I472","g7","A475","g8","S477","K478","g9","E484","G485","F486","g10","F490","g11","N501"], "paddingInner": 0.12, "paddingOuter": 0.3}, "axis": {"values": ["Y365","P384","R408","K417","R452","F456","I472","A475","S477","K478","E484","G485","F486","F490","N501"], "labels": false, "title": null}}},
"layer": [
{"transform": [{"filter": "datum.p=='D1' && (datum.a=='' || datum.v < 0.076)"}], "mark": {"type": "bar", "fill": {"expr": "datum.a=='' ? gradmap[sitegrp[datum.s]] : colmap[sitegrp[datum.s]]"}, "fillOpacity": {"expr": "datum.a=='' ? 1 : 0.75"}, "stroke": "#ffffff", "strokeWidth": {"expr": "datum.a=='' ? 0 : 0.8"}}, "encoding": {"y": {"field": "y1", "type": "quantitative", "scale": {"domain": [-0.061, 1.139], "nice": false, "zero": false}, "axis": {"values": [0,0.3,0.6,0.9], "format": ".1f", "title": "escape fraction", "titleX": -67, "titleY": 115, "titleAngle": -90, "titleAlign": "center", "titleBaseline": "middle"}}, "y2": {"field": "y0"}}},
{"transform": [{"filter": "datum.p=='D1' && datum.a!=''"}], "mark": {"type": "text", "font": "Liberation Sans Narrow, Liberation Sans", "fontWeight": "bold", "baseline": "middle", "align": "center", "fontSize": {"expr": "datum.v < 0.076 ? datum.v * 85.0 : min(20, datum.v * 130.8)"}, "fill": {"expr": "datum.v < 0.076 ? '#ffffff' : colmap[sitegrp[datum.s]]"}}, "encoding": {"y": {"field": "ym", "type": "quantitative", "scale": {"domain": [-0.061, 1.139], "nice": false, "zero": false}, "axis": {"values": [0,0.3,0.6,0.9], "format": ".1f", "title": "escape fraction", "titleX": -67, "titleY": 115, "titleAngle": -90, "titleAlign": "center", "titleBaseline": "middle"}}, "text": {"field": "a"}}},
{"data": {"name": "seps"}, "mark": {"type": "rule", "color": "#000", "strokeWidth": 1.2, "strokeDash": [1.5, 3.5]}, "encoding": {}}
]},
{"title": "Delta 11", "width": 465, "height": 108,
"encoding": {"x": {"field": "s", "type": "nominal", "scale": {"domain": ["Y365","g1","P384","g2","R408","g3","K417","g4","R452","g5","F456","g6","I472","g7","A475","g8","S477","K478","g9","E484","G485","F486","g10","F490","g11","N501"], "paddingInner": 0.12, "paddingOuter": 0.3}, "axis": {"values": ["Y365","P384","R408","K417","R452","F456","I472","A475","S477","K478","E484","G485","F486","F490","N501"], "labels": false, "title": null}}},
"layer": [
{"transform": [{"filter": "datum.p=='D11' && (datum.a=='' || datum.v < 0.172)"}], "mark": {"type": "bar", "fill": {"expr": "datum.a=='' ? gradmap[sitegrp[datum.s]] : colmap[sitegrp[datum.s]]"}, "fillOpacity": {"expr": "datum.a=='' ? 1 : 0.75"}, "stroke": "#ffffff", "strokeWidth": {"expr": "datum.a=='' ? 0 : 0.8"}}, "encoding": {"y": {"field": "y1", "type": "quantitative", "scale": {"domain": [-0.1375, 2.56], "nice": false, "zero": false}, "axis": {"values": [0,0.8,1.6,2.4], "format": ".1f", "title": null}}, "y2": {"field": "y0"}}},
{"transform": [{"filter": "datum.p=='D11' && datum.a!=''"}], "mark": {"type": "text", "font": "Liberation Sans Narrow, Liberation Sans", "fontWeight": "bold", "baseline": "middle", "align": "center", "fontSize": {"expr": "datum.v < 0.172 ? datum.v * 37.8 : min(20, datum.v * 58.1)"}, "fill": {"expr": "datum.v < 0.172 ? '#ffffff' : colmap[sitegrp[datum.s]]"}}, "encoding": {"y": {"field": "ym", "type": "quantitative", "scale": {"domain": [-0.1375, 2.56], "nice": false, "zero": false}, "axis": {"values": [0,0.8,1.6,2.4], "format": ".1f", "title": null}}, "text": {"field": "a"}}},
{"data": {"name": "seps"}, "mark": {"type": "rule", "color": "#000", "strokeWidth": 1.2, "strokeDash": [1.5, 3.5]}, "encoding": {}}
]},
{"title": "Delta 6", "width": 465, "height": 108,
"encoding": {"x": {"field": "s", "type": "nominal", "scale": {"domain": ["Y365","g1","P384","g2","R408","g3","K417","g4","R452","g5","F456","g6","I472","g7","A475","g8","S477","K478","g9","E484","G485","F486","g10","F490","g11","N501"], "paddingInner": 0.12, "paddingOuter": 0.3}, "axis": {"values": ["Y365","P384","R408","K417","R452","F456","I472","A475","S477","K478","E484","G485","F486","F490","N501"], "labels": false, "title": null}}},
"layer": [
{"transform": [{"filter": "datum.p=='D6' && (datum.a=='' || datum.v < 0.176)"}], "mark": {"type": "bar", "fill": {"expr": "datum.a=='' ? gradmap[sitegrp[datum.s]] : colmap[sitegrp[datum.s]]"}, "fillOpacity": {"expr": "datum.a=='' ? 1 : 0.75"}, "stroke": "#ffffff", "strokeWidth": {"expr": "datum.a=='' ? 0 : 0.8"}}, "encoding": {"y": {"field": "y1", "type": "quantitative", "scale": {"domain": [-0.14, 2.617], "nice": false, "zero": false}, "axis": {"values": [0,0.8,1.6,2.4], "format": ".1f", "title": null}}, "y2": {"field": "y0"}}},
{"transform": [{"filter": "datum.p=='D6' && datum.a!=''"}], "mark": {"type": "text", "font": "Liberation Sans Narrow, Liberation Sans", "fontWeight": "bold", "baseline": "middle", "align": "center", "fontSize": {"expr": "datum.v < 0.176 ? datum.v * 37.0 : min(20, datum.v * 56.9)"}, "fill": {"expr": "datum.v < 0.176 ? '#ffffff' : colmap[sitegrp[datum.s]]"}}, "encoding": {"y": {"field": "ym", "type": "quantitative", "scale": {"domain": [-0.14, 2.617], "nice": false, "zero": false}, "axis": {"values": [0,0.8,1.6,2.4], "format": ".1f", "title": null}}, "text": {"field": "a"}}},
{"data": {"name": "seps"}, "mark": {"type": "rule", "color": "#000", "strokeWidth": 1.2, "strokeDash": [1.5, 3.5]}, "encoding": {}}
]},
{"title": "Delta 10", "width": 465, "height": 108,
"encoding": {"x": {"field": "s", "type": "nominal", "scale": {"domain": ["Y365","g1","P384","g2","R408","g3","K417","g4","R452","g5","F456","g6","I472","g7","A475","g8","S477","K478","g9","E484","G485","F486","g10","F490","g11","N501"], "paddingInner": 0.12, "paddingOuter": 0.3}, "axis": {"values": ["Y365","P384","R408","K417","R452","F456","I472","A475","S477","K478","E484","G485","F486","F490","N501"], "labels": false, "title": null}}},
"layer": [
{"transform": [{"filter": "datum.p=='D10' && (datum.a=='' || datum.v < 0.087)"}], "mark": {"type": "bar", "fill": {"expr": "datum.a=='' ? gradmap[sitegrp[datum.s]] : colmap[sitegrp[datum.s]]"}, "fillOpacity": {"expr": "datum.a=='' ? 1 : 0.75"}, "stroke": "#ffffff", "strokeWidth": {"expr": "datum.a=='' ? 0 : 0.8"}}, "encoding": {"y": {"field": "y1", "type": "quantitative", "scale": {"domain": [-0.069, 1.295], "nice": false, "zero": false}, "axis": {"values": [0,0.4,0.8,1.2], "format": ".1f", "title": null}}, "y2": {"field": "y0"}}},
{"transform": [{"filter": "datum.p=='D10' && datum.a!=''"}], "mark": {"type": "text", "font": "Liberation Sans Narrow, Liberation Sans", "fontWeight": "bold", "baseline": "middle", "align": "center", "fontSize": {"expr": "datum.v < 0.087 ? datum.v * 74.8 : min(20, datum.v * 115.1)"}, "fill": {"expr": "datum.v < 0.087 ? '#ffffff' : colmap[sitegrp[datum.s]]"}}, "encoding": {"y": {"field": "ym", "type": "quantitative", "scale": {"domain": [-0.069, 1.295], "nice": false, "zero": false}, "axis": {"values": [0,0.4,0.8,1.2], "format": ".1f", "title": null}}, "text": {"field": "a"}}},
{"data": {"name": "seps"}, "mark": {"type": "rule", "color": "#000", "strokeWidth": 1.2, "strokeDash": [1.5, 3.5]}, "encoding": {}}
]},
{"title": "Delta 7", "width": 465, "height": 108,
"encoding": {"x": {"field": "s", "type": "nominal", "scale": {"domain": ["Y365","g1","P384","g2","R408","g3","K417","g4","R452","g5","F456","g6","I472","g7","A475","g8","S477","K478","g9","E484","G485","F486","g10","F490","g11","N501"], "paddingInner": 0.12, "paddingOuter": 0.3}, "axis": {"values": ["Y365","P384","R408","K417","R452","F456","I472","A475","S477","K478","E484","G485","F486","F490","N501"], "title": "site", "titleX": 220, "titleY": 76, "titleBaseline": "alphabetic", "labelColor": {"condition": {"test": "datum.value=='R452' || datum.value=='K478'", "value": "#E5642E"}, "value": "#000000"}}}},
"layer": [
{"transform": [{"filter": "datum.p=='D7' && (datum.a=='' || datum.v < 0.083)"}], "mark": {"type": "bar", "fill": {"expr": "datum.a=='' ? gradmap[sitegrp[datum.s]] : colmap[sitegrp[datum.s]]"}, "fillOpacity": {"expr": "datum.a=='' ? 1 : 0.75"}, "stroke": "#ffffff", "strokeWidth": {"expr": "datum.a=='' ? 0 : 0.8"}}, "encoding": {"y": {"field": "y1", "type": "quantitative", "scale": {"domain": [-0.067, 1.242], "nice": false, "zero": false}, "axis": {"values": [0,0.4,0.8,1.2], "format": ".1f", "title": null}}, "y2": {"field": "y0"}}},
{"transform": [{"filter": "datum.p=='D7' && datum.a!=''"}], "mark": {"type": "text", "font": "Liberation Sans Narrow, Liberation Sans", "fontWeight": "bold", "baseline": "middle", "align": "center", "fontSize": {"expr": "datum.v < 0.083 ? datum.v * 77.9 : min(20, datum.v * 119.9)"}, "fill": {"expr": "datum.v < 0.083 ? '#ffffff' : colmap[sitegrp[datum.s]]"}}, "encoding": {"y": {"field": "ym", "type": "quantitative", "scale": {"domain": [-0.067, 1.242], "nice": false, "zero": false}, "axis": {"values": [0,0.4,0.8,1.2], "format": ".1f", "title": null}}, "text": {"field": "a"}}},
{"data": {"name": "seps"}, "mark": {"type": "rule", "color": "#000", "strokeWidth": 1.2, "strokeDash": [1.5, 3.5]}, "encoding": {}}
]}
]},
{"spacing": 41, "bounds": "flush", "vconcat": [
{"title": "279C", "width": 465, "height": 108,
"encoding": {"x": {"field": "s", "type": "nominal", "scale": {"domain": ["Y365","g1","P384","g2","R408","g3","K417","g4","R452","g5","F456","g6","I472","g7","A475","g8","S477","K478","g9","E484","G485","F486","g10","F490","g11","N501"], "paddingInner": 0.12, "paddingOuter": 0.3}, "axis": {"values": ["Y365","P384","R408","K417","R452","F456","I472","A475","S477","K478","E484","G485","F486","F490","N501"], "labels": false, "title": null}}},
"layer": [
{"transform": [{"filter": "datum.p=='279C' && (datum.a=='' || datum.v < 0.135)"}], "mark": {"type": "bar", "fill": {"expr": "datum.a=='' ? gradmap[sitegrp[datum.s]] : colmap[sitegrp[datum.s]]"}, "fillOpacity": {"expr": "datum.a=='' ? 1 : 0.75"}, "stroke": "#ffffff", "strokeWidth": {"expr": "datum.a=='' ? 0 : 0.8"}}, "encoding": {"y": {"field": "y1", "type": "quantitative", "scale": {"domain": [-0.108, 2.006], "nice": false, "zero": false}, "axis": {"values": [0,0.6,1.2,1.8], "format": ".1f", "title": null}}, "y2": {"field": "y0"}}},
{"transform": [{"filter": "datum.p=='279C' && datum.a!=''"}], "mark": {"type": "text", "font": "Liberation Sans Narrow, Liberation Sans", "fontWeight": "bold", "baseline": "middle", "align": "center", "fontSize": {"expr": "datum.v < 0.135 ? datum.v * 48.3 : min(20, datum.v * 74.3)"}, "fill": {"expr": "datum.v < 0.135 ? '#ffffff' : colmap[sitegrp[datum.s]]"}}, "encoding": {"y": {"field": "ym", "type": "quantitative", "scale": {"domain": [-0.108, 2.006], "nice": false, "zero": false}, "axis": {"values": [0,0.6,1.2,1.8], "format": ".1f", "title": null}}, "text": {"field": "a"}}},
{"data": {"name": "seps"}, "mark": {"type": "rule", "color": "#000", "strokeWidth": 1.2, "strokeDash": [1.5, 3.5]}, "encoding": {}}
]},
{"title": "278C", "width": 465, "height": 108,
"encoding": {"x": {"field": "s", "type": "nominal", "scale": {"domain": ["Y365","g1","P384","g2","R408","g3","K417","g4","R452","g5","F456","g6","I472","g7","A475","g8","S477","K478","g9","E484","G485","F486","g10","F490","g11","N501"], "paddingInner": 0.12, "paddingOuter": 0.3}, "axis": {"values": ["Y365","P384","R408","K417","R452","F456","I472","A475","S477","K478","E484","G485","F486","F490","N501"], "labels": false, "title": null}}},
"layer": [
{"transform": [{"filter": "datum.p=='278C' && (datum.a=='' || datum.v < 0.135)"}], "mark": {"type": "bar", "fill": {"expr": "datum.a=='' ? gradmap[sitegrp[datum.s]] : colmap[sitegrp[datum.s]]"}, "fillOpacity": {"expr": "datum.a=='' ? 1 : 0.75"}, "stroke": "#ffffff", "strokeWidth": {"expr": "datum.a=='' ? 0 : 0.8"}}, "encoding": {"y": {"field": "y1", "type": "quantitative", "scale": {"domain": [-0.108, 2.006], "nice": false, "zero": false}, "axis": {"values": [0,0.6,1.2,1.8], "format": ".1f", "title": null}}, "y2": {"field": "y0"}}},
{"transform": [{"filter": "datum.p=='278C' && datum.a!=''"}], "mark": {"type": "text", "font": "Liberation Sans Narrow, Liberation Sans", "fontWeight": "bold", "baseline": "middle", "align": "center", "fontSize": {"expr": "datum.v < 0.135 ? datum.v * 48.3 : min(20, datum.v * 74.3)"}, "fill": {"expr": "datum.v < 0.135 ? '#ffffff' : colmap[sitegrp[datum.s]]"}}, "encoding": {"y": {"field": "ym", "type": "quantitative", "scale": {"domain": [-0.108, 2.006], "nice": false, "zero": false}, "axis": {"values": [0,0.6,1.2,1.8], "format": ".1f", "title": null}}, "text": {"field": "a"}}},
{"data": {"name": "seps"}, "mark": {"type": "rule", "color": "#000", "strokeWidth": 1.2, "strokeDash": [1.5, 3.5]}, "encoding": {}}
]},
{"title": "276C", "width": 465, "height": 108,
"encoding": {"x": {"field": "s", "type": "nominal", "scale": {"domain": ["Y365","g1","P384","g2","R408","g3","K417","g4","R452","g5","F456","g6","I472","g7","A475","g8","S477","K478","g9","E484","G485","F486","g10","F490","g11","N501"], "paddingInner": 0.12, "paddingOuter": 0.3}, "axis": {"values": ["Y365","P384","R408","K417","R452","F456","I472","A475","S477","K478","E484","G485","F486","F490","N501"], "labels": false, "title": null}}},
"layer": [
{"transform": [{"filter": "datum.p=='276C' && (datum.a=='' || datum.v < 0.319)"}], "mark": {"type": "bar", "fill": {"expr": "datum.a=='' ? gradmap[sitegrp[datum.s]] : colmap[sitegrp[datum.s]]"}, "fillOpacity": {"expr": "datum.a=='' ? 1 : 0.75"}, "stroke": "#ffffff", "strokeWidth": {"expr": "datum.a=='' ? 0 : 0.8"}}, "encoding": {"y": {"field": "y1", "type": "quantitative", "scale": {"domain": [-0.255, 4.755], "nice": false, "zero": false}, "axis": {"values": [0,1.5,3,4.5], "format": ".1f", "title": null}}, "y2": {"field": "y0"}}},
{"transform": [{"filter": "datum.p=='276C' && datum.a!=''"}], "mark": {"type": "text", "font": "Liberation Sans Narrow, Liberation Sans", "fontWeight": "bold", "baseline": "middle", "align": "center", "fontSize": {"expr": "datum.v < 0.319 ? datum.v * 20.3 : min(20, datum.v * 31.3)"}, "fill": {"expr": "datum.v < 0.319 ? '#ffffff' : colmap[sitegrp[datum.s]]"}}, "encoding": {"y": {"field": "ym", "type": "quantitative", "scale": {"domain": [-0.255, 4.755], "nice": false, "zero": false}, "axis": {"values": [0,1.5,3,4.5], "format": ".1f", "title": null}}, "text": {"field": "a"}}},
{"data": {"name": "seps"}, "mark": {"type": "rule", "color": "#000", "strokeWidth": 1.2, "strokeDash": [1.5, 3.5]}, "encoding": {}}
]},
{"title": "273C", "width": 465, "height": 108,
"encoding": {"x": {"field": "s", "type": "nominal", "scale": {"domain": ["Y365","g1","P384","g2","R408","g3","K417","g4","R452","g5","F456","g6","I472","g7","A475","g8","S477","K478","g9","E484","G485","F486","g10","F490","g11","N501"], "paddingInner": 0.12, "paddingOuter": 0.3}, "axis": {"values": ["Y365","P384","R408","K417","R452","F456","I472","A475","S477","K478","E484","G485","F486","F490","N501"], "labels": false, "title": null}}},
"layer": [
{"transform": [{"filter": "datum.p=='273C' && (datum.a=='' || datum.v < 0.182)"}], "mark": {"type": "bar", "fill": {"expr": "datum.a=='' ? gradmap[sitegrp[datum.s]] : colmap[sitegrp[datum.s]]"}, "fillOpacity": {"expr": "datum.a=='' ? 1 : 0.75"}, "stroke": "#ffffff", "strokeWidth": {"expr": "datum.a=='' ? 0 : 0.8"}}, "encoding": {"y": {"field": "y1", "type": "quantitative", "scale": {"domain": [-0.145, 2.705], "nice": false, "zero": false}, "axis": {"values": [0,0.8,1.6,2.4], "format": ".1f", "title": "escape fraction", "titleX": -58, "titleY": 117, "titleAngle": -90, "titleAlign": "center", "titleBaseline": "middle"}}, "y2": {"field": "y0"}}},
{"transform": [{"filter": "datum.p=='273C' && datum.a!=''"}], "mark": {"type": "text", "font": "Liberation Sans Narrow, Liberation Sans", "fontWeight": "bold", "baseline": "middle", "align": "center", "fontSize": {"expr": "datum.v < 0.182 ? datum.v * 35.8 : min(20, datum.v * 55.1)"}, "fill": {"expr": "datum.v < 0.182 ? '#ffffff' : colmap[sitegrp[datum.s]]"}}, "encoding": {"y": {"field": "ym", "type": "quantitative", "scale": {"domain": [-0.145, 2.705], "nice": false, "zero": false}, "axis": {"values": [0,0.8,1.6,2.4], "format": ".1f", "title": "escape fraction", "titleX": -58, "titleY": 117, "titleAngle": -90, "titleAlign": "center", "titleBaseline": "middle"}}, "text": {"field": "a"}}},
{"data": {"name": "seps"}, "mark": {"type": "rule", "color": "#000", "strokeWidth": 1.2, "strokeDash": [1.5, 3.5]}, "encoding": {}}
]},
{"title": "274C", "width": 465, "height": 108,
"encoding": {"x": {"field": "s", "type": "nominal", "scale": {"domain": ["Y365","g1","P384","g2","R408","g3","K417","g4","R452","g5","F456","g6","I472","g7","A475","g8","S477","K478","g9","E484","G485","F486","g10","F490","g11","N501"], "paddingInner": 0.12, "paddingOuter": 0.3}, "axis": {"values": ["Y365","P384","R408","K417","R452","F456","I472","A475","S477","K478","E484","G485","F486","F490","N501"], "labels": false, "title": null}}},
"layer": [
{"transform": [{"filter": "datum.p=='274C' && (datum.a=='' || datum.v < 0.217)"}], "mark": {"type": "bar", "fill": {"expr": "datum.a=='' ? gradmap[sitegrp[datum.s]] : colmap[sitegrp[datum.s]]"}, "fillOpacity": {"expr": "datum.a=='' ? 1 : 0.75"}, "stroke": "#ffffff", "strokeWidth": {"expr": "datum.a=='' ? 0 : 0.8"}}, "encoding": {"y": {"field": "y1", "type": "quantitative", "scale": {"domain": [-0.174, 3.236], "nice": false, "zero": false}, "axis": {"values": [0,1,2,3], "format": "d", "title": null}}, "y2": {"field": "y0"}}},
{"transform": [{"filter": "datum.p=='274C' && datum.a!=''"}], "mark": {"type": "text", "font": "Liberation Sans Narrow, Liberation Sans", "fontWeight": "bold", "baseline": "middle", "align": "center", "fontSize": {"expr": "datum.v < 0.217 ? datum.v * 29.9 : min(20, datum.v * 46.0)"}, "fill": {"expr": "datum.v < 0.217 ? '#ffffff' : colmap[sitegrp[datum.s]]"}}, "encoding": {"y": {"field": "ym", "type": "quantitative", "scale": {"domain": [-0.174, 3.236], "nice": false, "zero": false}, "axis": {"values": [0,1,2,3], "format": "d", "title": null}}, "text": {"field": "a"}}},
{"data": {"name": "seps"}, "mark": {"type": "rule", "color": "#000", "strokeWidth": 1.2, "strokeDash": [1.5, 3.5]}, "encoding": {}}
]},
{"title": "268C", "width": 465, "height": 108,
"encoding": {"x": {"field": "s", "type": "nominal", "scale": {"domain": ["Y365","g1","P384","g2","R408","g3","K417","g4","R452","g5","F456","g6","I472","g7","A475","g8","S477","K478","g9","E484","G485","F486","g10","F490","g11","N501"], "paddingInner": 0.12, "paddingOuter": 0.3}, "axis": {"values": ["Y365","P384","R408","K417","R452","F456","I472","A475","S477","K478","E484","G485","F486","F490","N501"], "labels": false, "title": null}}},
"layer": [
{"transform": [{"filter": "datum.p=='268C' && (datum.a=='' || datum.v < 0.178)"}], "mark": {"type": "bar", "fill": {"expr": "datum.a=='' ? gradmap[sitegrp[datum.s]] : colmap[sitegrp[datum.s]]"}, "fillOpacity": {"expr": "datum.a=='' ? 1 : 0.75"}, "stroke": "#ffffff", "strokeWidth": {"expr": "datum.a=='' ? 0 : 0.8"}}, "encoding": {"y": {"field": "y1", "type": "quantitative", "scale": {"domain": [-0.142, 2.645], "nice": false, "zero": false}, "axis": {"values": [0,0.8,1.6,2.4], "format": ".1f", "title": null}}, "y2": {"field": "y0"}}},
{"transform": [{"filter": "datum.p=='268C' && datum.a!=''"}], "mark": {"type": "text", "font": "Liberation Sans Narrow, Liberation Sans", "fontWeight": "bold", "baseline": "middle", "align": "center", "fontSize": {"expr": "datum.v < 0.178 ? datum.v * 36.6 : min(20, datum.v * 56.3)"}, "fill": {"expr": "datum.v < 0.178 ? '#ffffff' : colmap[sitegrp[datum.s]]"}}, "encoding": {"y": {"field": "ym", "type": "quantitative", "scale": {"domain": [-0.142, 2.645], "nice": false, "zero": false}, "axis": {"values": [0,0.8,1.6,2.4], "format": ".1f", "title": null}}, "text": {"field": "a"}}},
{"data": {"name": "seps"}, "mark": {"type": "rule", "color": "#000", "strokeWidth": 1.2, "strokeDash": [1.5, 3.5]}, "encoding": {}}
]},
{"title": "267C", "width": 465, "height": 108,
"encoding": {"x": {"field": "s", "type": "nominal", "scale": {"domain": ["Y365","g1","P384","g2","R408","g3","K417","g4","R452","g5","F456","g6","I472","g7","A475","g8","S477","K478","g9","E484","G485","F486","g10","F490","g11","N501"], "paddingInner": 0.12, "paddingOuter": 0.3}, "axis": {"values": ["Y365","P384","R408","K417","R452","F456","I472","A475","S477","K478","E484","G485","F486","F490","N501"], "labels": false, "title": null}}},
"layer": [
{"transform": [{"filter": "datum.p=='267C' && (datum.a=='' || datum.v < 0.176)"}], "mark": {"type": "bar", "fill": {"expr": "datum.a=='' ? gradmap[sitegrp[datum.s]] : colmap[sitegrp[datum.s]]"}, "fillOpacity": {"expr": "datum.a=='' ? 1 : 0.75"}, "stroke": "#ffffff", "strokeWidth": {"expr": "datum.a=='' ? 0 : 0.8"}}, "encoding": {"y": {"field": "y1", "type": "quantitative", "scale": {"domain": [-0.14, 2.617], "nice": false, "zero": false}, "axis": {"values": [0,0.8,1.6,2.4], "format": ".1f", "title": null}}, "y2": {"field": "y0"}}},
{"transform": [{"filter": "datum.p=='267C' && datum.a!=''"}], "mark": {"type": "text", "font": "Liberation Sans Narrow, Liberation Sans", "fontWeight": "bold", "baseline": "middle", "align": "center", "fontSize": {"expr": "datum.v < 0.176 ? datum.v * 37.0 : min(20, datum.v * 56.9)"}, "fill": {"expr": "datum.v < 0.176 ? '#ffffff' : colmap[sitegrp[datum.s]]"}}, "encoding": {"y": {"field": "ym", "type": "quantitative", "scale": {"domain": [-0.14, 2.617], "nice": false, "zero": false}, "axis": {"values": [0,0.8,1.6,2.4], "format": ".1f", "title": null}}, "text": {"field": "a"}}},
{"data": {"name": "seps"}, "mark": {"type": "rule", "color": "#000", "strokeWidth": 1.2, "strokeDash": [1.5, 3.5]}, "encoding": {}}
]},
{"title": "277C", "width": 465, "height": 108,
"encoding": {"x": {"field": "s", "type": "nominal", "scale": {"domain": ["Y365","g1","P384","g2","R408","g3","K417","g4","R452","g5","F456","g6","I472","g7","A475","g8","S477","K478","g9","E484","G485","F486","g10","F490","g11","N501"], "paddingInner": 0.12, "paddingOuter": 0.3}, "axis": {"values": ["Y365","P384","R408","K417","R452","F456","I472","A475","S477","K478","E484","G485","F486","F490","N501"], "title": "site", "titleX": 220, "titleY": 76, "titleBaseline": "alphabetic", "labelColor": {"condition": {"test": "datum.value=='R452' || datum.value=='K478'", "value": "#E5642E"}, "value": "#000000"}}}},
"layer": [
{"transform": [{"filter": "datum.p=='277C' && (datum.a=='' || datum.v < 0.172)"}], "mark": {"type": "bar", "fill": {"expr": "datum.a=='' ? gradmap[sitegrp[datum.s]] : colmap[sitegrp[datum.s]]"}, "fillOpacity": {"expr": "datum.a=='' ? 1 : 0.75"}, "stroke": "#ffffff", "strokeWidth": {"expr": "datum.a=='' ? 0 : 0.8"}}, "encoding": {"y": {"field": "y1", "type": "quantitative", "scale": {"domain": [-0.1375, 2.56], "nice": false, "zero": false}, "axis": {"values": [0,0.8,1.6,2.4], "format": ".1f", "title": null}}, "y2": {"field": "y0"}}},
{"transform": [{"filter": "datum.p=='277C' && datum.a!=''"}], "mark": {"type": "text", "font": "Liberation Sans Narrow, Liberation Sans", "fontWeight": "bold", "baseline": "middle", "align": "center", "fontSize": {"expr": "datum.v < 0.172 ? datum.v * 37.8 : min(20, datum.v * 58.1)"}, "fill": {"expr": "datum.v < 0.172 ? '#ffffff' : colmap[sitegrp[datum.s]]"}}, "encoding": {"y": {"field": "ym", "type": "quantitative", "scale": {"domain": [-0.1375, 2.56], "nice": false, "zero": false}, "axis": {"values": [0,0.8,1.6,2.4], "format": ".1f", "title": null}}, "text": {"field": "a"}}},
{"data": {"name": "seps"}, "mark": {"type": "rule", "color": "#000", "strokeWidth": 1.2, "strokeDash": [1.5, 3.5]}, "encoding": {}}
]}
]}
],
"config": {
"view": {"stroke": null},
"font": "Liberation Sans",
"title": {"fontSize": 24, "fontWeight": "normal", "offset": 2, "color": "#000000", "font": "Liberation Sans"},
"axis": {"domainColor": "#777777", "domainWidth": 1.5, "tickColor": "#555555", "tickSize": 5, "tickWidth": 1.2, "labelColor": "#000000", "labelFont": "Liberation Sans", "titleFont": "Liberation Sans", "titleFontWeight": "normal", "titleColor": "#000000", "grid": false, "titleFontSize": 25},
"axisX": {"labelAngle": -90, "labelFontSize": 19, "labelPadding": 2},
"axisY": {"labelFontSize": 18, "labelPadding": 4}
}
}
